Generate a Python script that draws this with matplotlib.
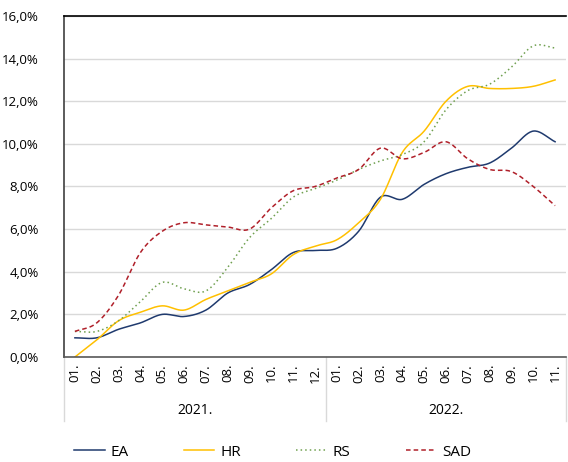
import numpy as np
import matplotlib.pyplot as plt
from matplotlib.lines import Line2D

plt.rcParams['font.family'] = ['Open Sans', 'DejaVu Sans']

months = ["01.", "02.", "03.", "04.", "05.", "06.", "07.", "08.", "09.", "10.", "11.", "12.",
          "01.", "02.", "03.", "04.", "05.", "06.", "07.", "08.", "09.", "10.", "11."]
years = ["2021.", "2022."]
year_counts = [12, 11]

ea = [0.9, 0.9, 1.3, 1.6, 2.0, 1.9, 2.2, 3.0, 3.4, 4.1, 4.9, 5.0,
      5.1, 5.9, 7.5, 7.4, 8.1, 8.6, 8.9, 9.1, 9.8, 10.6, 10.1]
hr = [0.0, 0.8, 1.7, 2.1, 2.4, 2.2, 2.7, 3.1, 3.5, 3.9, 4.8, 5.2,
      5.5, 6.3, 7.4, 9.6, 10.6, 12.0, 12.7, 12.6, 12.6, 12.7, 13.0]
rs = [1.2, 1.2, 1.7, 2.6, 3.5, 3.2, 3.1, 4.2, 5.6, 6.5, 7.5, 7.9,
      8.3, 8.8, 9.2, 9.5, 10.1, 11.6, 12.5, 12.8, 13.6, 14.6, 14.5]
sad = [1.2, 1.6, 2.9, 4.9, 5.9, 6.3, 6.2, 6.1, 6.0, 7.0, 7.8, 8.0,
       8.4, 8.8, 9.8, 9.3, 9.6, 10.1, 9.3, 8.8, 8.7, 8.0, 7.1]


def smooth(y, n=20):
    # Catmull-Rom curve through the points, like Excel's smoothed line
    y = np.asarray(y, float)
    p = np.concatenate([[2 * y[0] - y[1]], y, [2 * y[-1] - y[-2]]])
    xs, ys = [], []
    t = np.linspace(0, 1, n, endpoint=False)
    for i in range(1, len(p) - 2):
        p0, p1, p2, p3 = p[i - 1], p[i], p[i + 1], p[i + 2]
        yy = 0.5 * ((2 * p1) + (-p0 + p2) * t + (2 * p0 - 5 * p1 + 4 * p2 - p3) * t ** 2
                    + (-p0 + 3 * p1 - 3 * p2 + p3) * t ** 3)
        xs.extend(i - 1 + t)
        ys.extend(yy)
    xs.append(len(y) - 1)
    ys.append(y[-1])
    return np.array(xs), np.array(ys)


fig = plt.figure(figsize=(5.68, 4.62), dpi=100)
ax = fig.add_axes([64 / 568, 1 - 357 / 462, 502 / 568, 341 / 462])

series = [("EA", ea, "#1f3a6e", "-"), ("HR", hr, "#ffc000", "-"),
          ("RS", rs, "#70a050", (0, (1, 2))), ("SAD", sad, "#b0202a", (0, (3, 2)))]
handles = []
for name, vals, col, ls in series:
    xs, ys = smooth(vals)
    ax.plot(xs, ys, color=col, linestyle=ls, linewidth=1.1)
    handles.append(Line2D([], [], color=col, linestyle=ls, linewidth=1.1, label=name))

ax.set_xlim(-0.5, len(months) - 0.5)
ax.set_ylim(0, 16)
ax.set_yticks(np.arange(0, 17, 2))
ax.set_yticklabels([f"{v:.1f}%".replace(".", ",") for v in np.arange(0, 17, 2)], fontsize=9.5)
ax.set_xticks(range(len(months)))
ax.set_xticklabels(months, rotation=90, fontsize=9.5)
ax.tick_params(length=0)
ax.tick_params(axis="y", pad=18)
ax.tick_params(axis="x", pad=5)
ax.grid(axis="y", color="#d9d9d9", linewidth=1)
ax.set_axisbelow(True)
ax.spines["right"].set_visible(False)
ax.spines["top"].set_color("black")
ax.spines["top"].set_linewidth(1.2)
ax.spines["left"].set_color("#404040")
ax.spines["left"].set_linewidth(1.2)
ax.spines["bottom"].set_color("#595959")
ax.spines["bottom"].set_linewidth(1.2)

# year groups under the month labels
bounds = np.cumsum([0] + year_counts) - 0.5
for b in bounds:
    ax.plot([b, b], [0, -3.0], color="#d9d9d9", linewidth=1, clip_on=False)
for i, yr in enumerate(years):
    ax.text((bounds[i] + bounds[i + 1]) / 2, -2.5, yr, ha="center", va="center", fontsize=10)

fig.legend(handles=handles, loc="center", bbox_to_anchor=(0.48, 1 - 452 / 462), ncol=4,
           frameon=False, fontsize=11, handlelength=2.0, columnspacing=3.6, handletextpad=0.4)

fig.savefig("out.png", dpi=100)
